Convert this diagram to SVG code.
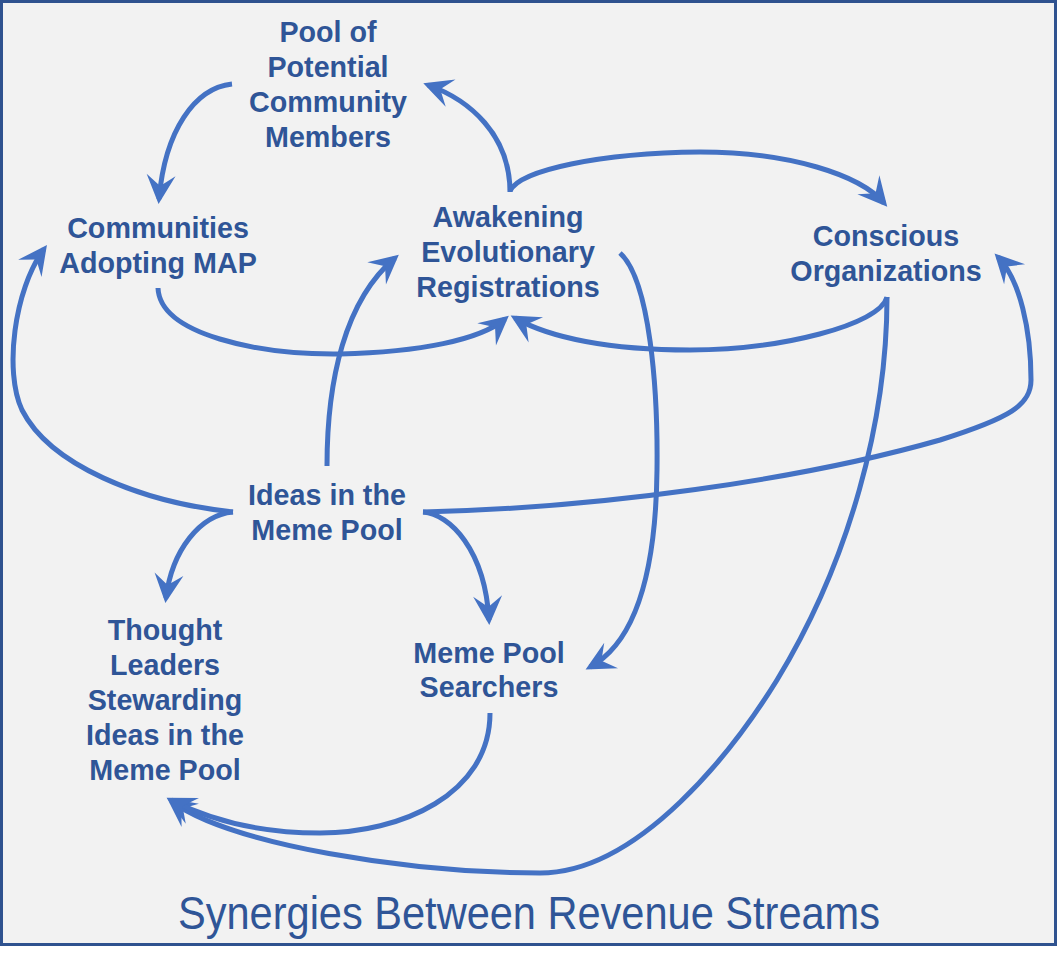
<svg xmlns="http://www.w3.org/2000/svg" width="1058" height="964" viewBox="0 0 1058 964">
  <defs>
    <marker id="ah" markerUnits="userSpaceOnUse" orient="auto" markerWidth="60" markerHeight="60" viewBox="-30 -30 60 60" refX="0" refY="0" overflow="visible">
      <path d="M5,0 L-24,-14.5 L-13,0 L-24,14.5 Z" fill="#4472c4"/>
    </marker>
    <style>
      .lbl { font-family: "Liberation Sans", Arial, sans-serif; font-weight: bold; font-size: 28.7px; fill: #2f5597; text-anchor: middle; }
      .title { font-family: "Liberation Sans", Arial, sans-serif; font-size: 46px; fill: #2f5597; text-anchor: middle; }
      .ca { fill: none; stroke: #4472c4; stroke-width: 5; marker-end: url(#ah); }
    </style>
  </defs>
  <rect x="0" y="0" width="1058" height="964" fill="#ffffff"/>
  <rect x="1.5" y="1.5" width="1054" height="943" fill="#f2f2f2" stroke="#2f528f" stroke-width="3"/>

  <g id="connectors">
    <path class="ca" d="M232,84 C195,88 165,130 159,199"/>
    <path class="ca" d="M510,192 C510,135 470,100 428,85"/>
    <path class="ca" d="M510,191 C520,170 600,153 700,152 C790,152 860,175 884,203"/>
    <path class="ca" d="M158,288 C160,335 260,355 340,354 C420,352 480,340 505,319"/>
    <path class="ca" d="M887,297 C880,325 780,350 690,350 C610,350 550,338 515,318"/>
    <path class="ca" d="M620,253 C650,280 658,390 657,470 C656,560 640,640 590,667"/>
    <path class="ca" d="M887,297 C887,420 850,560 777,680 C735,748 640,873 540,873 C410,873 230,845 171,801"/>
    <path class="ca" d="M490,713 C490,795 400,833 320,833 C260,833 210,820 171,800"/>
    <path class="ca" d="M233,512 C140,502 50,465 22,410 C4,372 14,290 44,249"/>
    <path class="ca" d="M233,512 C200,515 172,550 166,598"/>
    <path class="ca" d="M423,512 C450,514 485,550 489,620"/>
    <path class="ca" d="M423,512 C600,508 800,480 940,440 C1010,418 1031,405 1031,380 C1031,330 1020,280 998,257"/>
    <path class="ca" d="M327,466 C327,380 345,300 395,258"/>
  </g>

  <g id="node-pool">
    <text class="lbl" x="328" y="41.5">Pool of</text>
    <text class="lbl" x="328" y="77">Potential</text>
    <text class="lbl" x="328" y="112">Community</text>
    <text class="lbl" x="328" y="147">Members</text>
  </g>
  <g id="node-communities">
    <text class="lbl" x="158" y="238">Communities</text>
    <text class="lbl" x="158" y="273">Adopting MAP</text>
  </g>
  <g id="node-awakening">
    <text class="lbl" x="508" y="227">Awakening</text>
    <text class="lbl" x="508" y="262">Evolutionary</text>
    <text class="lbl" x="508" y="297">Registrations</text>
  </g>
  <g id="node-conscious">
    <text class="lbl" x="886" y="246">Conscious</text>
    <text class="lbl" x="886" y="281">Organizations</text>
  </g>
  <g id="node-ideas">
    <text class="lbl" x="327" y="505">Ideas in the</text>
    <text class="lbl" x="327" y="540">Meme Pool</text>
  </g>
  <g id="node-thought">
    <text class="lbl" x="165" y="640">Thought</text>
    <text class="lbl" x="165" y="675">Leaders</text>
    <text class="lbl" x="165" y="710">Stewarding</text>
    <text class="lbl" x="165" y="745">Ideas in the</text>
    <text class="lbl" x="165" y="780">Meme Pool</text>
  </g>
  <g id="node-searchers">
    <text class="lbl" x="489" y="663">Meme Pool</text>
    <text class="lbl" x="489" y="697">Searchers</text>
  </g>
  <g id="title">
    <text class="title" x="529" y="929" textLength="702" lengthAdjust="spacingAndGlyphs">Synergies Between Revenue Streams</text>
  </g>
</svg>
